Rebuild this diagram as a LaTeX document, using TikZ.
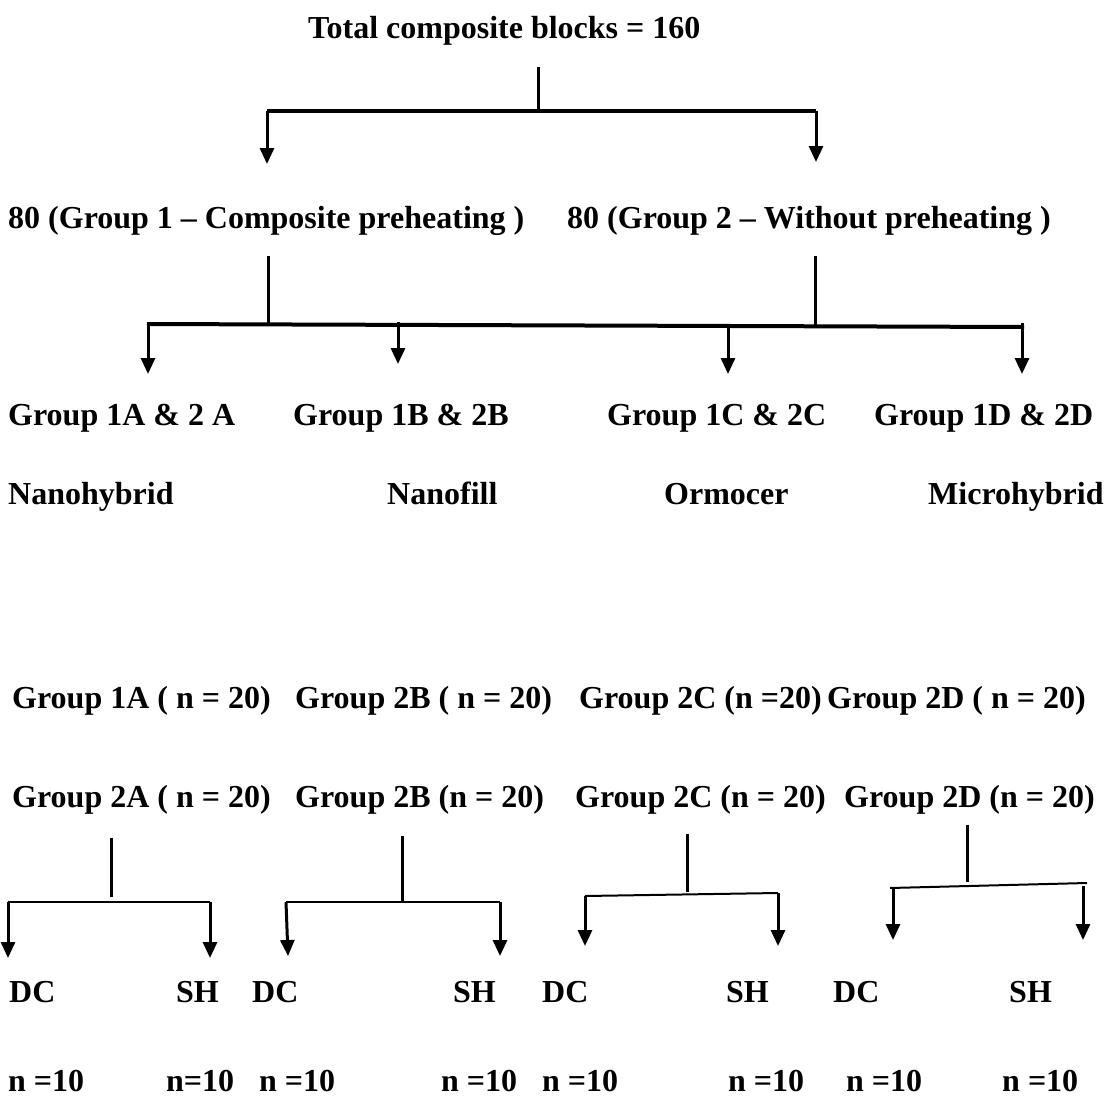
\documentclass[tikz,border=0pt]{standalone}
\usepackage{fontspec}
\setmainfont{Liberation Serif}
\usetikzlibrary{arrows.meta}
\begin{document}
\begin{tikzpicture}[x=1pt,y=-1pt,
  lbl/.style={anchor=base west,inner sep=0pt,font=\fontsize{32}{36}\selectfont\bfseries},
  stem/.style={line width=3pt},
  bar/.style={line width=4pt},
  thin bar/.style={line width=2pt},
  arr/.style={line width=3pt,-{Triangle[width=14pt,length=16pt]}}]
\useasboundingbox (0,0) rectangle (1109,1100);
% texts
\node[lbl] (total) at (308,38) {Total composite blocks = 160};
\node[lbl] (g1) at (8,228) {80 (Group 1 -- Composite preheating )};
\node[lbl] (g2) at (567,228) {80 (Group 2 -- Without preheating )};
\node[lbl] (gA) at (8,425) {Group 1A \& 2 A};
\node[lbl] (gB) at (293,425) {Group 1B \& 2B};
\node[lbl] (gC) at (607,425) {Group 1C \& 2C};
\node[lbl] (gD) at (874,425) {Group 1D \& 2D};
\node[lbl] (mA) at (8,504) {Nanohybrid};
\node[lbl] (mB) at (387,504) {Nanofill};
\node[lbl] (mC) at (664,504) {Ormocer};
\node[lbl] (mD) at (928,504) {Microhybrid};
\node[lbl] (pA) at (12,708) {Group 1A ( n = 20)};
\node[lbl] (pB) at (295,708) {Group 2B ( n = 20)};
\node[lbl] (pC) at (579,708) {Group 2C (n =20)};
\node[lbl] (pD) at (827,708) {Group 2D ( n = 20)};
\node[lbl] (qA) at (12,807) {Group 2A ( n = 20)};
\node[lbl] (qB) at (295,807) {Group 2B (n = 20)};
\node[lbl] (qC) at (575,807) {Group 2C (n = 20)};
\node[lbl] (qD) at (844,807) {Group 2D (n = 20)};
\node[lbl] (dA) at (9,1002) {DC};
\node[lbl] (sA) at (176,1002) {SH};
\node[lbl] (dB) at (252,1002) {DC};
\node[lbl] (sB) at (453,1002) {SH};
\node[lbl] (dC) at (542,1002) {DC};
\node[lbl] (sC) at (726,1002) {SH};
\node[lbl] (dD) at (833,1002) {DC};
\node[lbl] (sD) at (1009,1002) {SH};
\node[lbl] (ndA) at (8,1091) {n =10};
\node[lbl] (nsA) at (166,1091) {n=10};
\node[lbl] (ndB) at (259,1091) {n =10};
\node[lbl] (nsB) at (441,1091) {n =10};
\node[lbl] (ndC) at (542,1091) {n =10};
\node[lbl] (nsC) at (728,1091) {n =10};
\node[lbl] (ndD) at (846,1091) {n =10};
\node[lbl] (nsD) at (1002,1091) {n =10};
% level 1 connector
\coordinate (t0) at (538,67);
\coordinate (t1) at (538,111);
\coordinate (tL) at (267,111);
\coordinate (tR) at (816,111);
\coordinate (tLe) at (267,164);
\coordinate (tRe) at (816,162);
\draw[stem] (t0) -- (t1);
\draw[bar] (tL) -- (tR);
\draw[arr] (tL) -- (tLe);
\draw[arr] (tR) -- (tRe);
% level 2 connector
\coordinate (u1a) at (268,256);
\coordinate (u1b) at (268,325);
\coordinate (u2a) at (815,256);
\coordinate (u2b) at (815,326);
\coordinate (uL) at (147,324);
\coordinate (uR) at (1024,327);
\coordinate (uAs) at (148,324);
\coordinate (uAe) at (148,374);
\coordinate (uBs) at (398,322);
\coordinate (uBe) at (398,364);
\coordinate (uCs) at (728,327);
\coordinate (uCe) at (728,374);
\coordinate (uDs) at (1022,323);
\coordinate (uDe) at (1022,374);
\draw[stem] (u1a) -- (u1b);
\draw[stem] (u2a) -- (u2b);
\draw[bar] (uL) -- (uR);
\draw[arr] (uAs) -- (uAe);
\draw[arr] (uBs) -- (uBe);
\draw[arr] (uCs) -- (uCe);
\draw[arr] (uDs) -- (uDe);
% level 3 connectors
\coordinate (aS) at (111,838); \coordinate (aJ) at (111,897);
\coordinate (aL) at (8,902); \coordinate (aR) at (210,902);
\coordinate (aLe) at (8,958); \coordinate (aRe) at (210,958);
\draw[stem] (aS) -- (aJ);
\draw[thin bar] (aL) -- (aR);
\draw[arr] (aL) -- (aLe);
\draw[arr] (aR) -- (aRe);
\coordinate (bS) at (402,836); \coordinate (bJ) at (402,902);
\coordinate (bL) at (286,902); \coordinate (bR) at (500,902);
\coordinate (bLe) at (288,956); \coordinate (bRe) at (500,956);
\draw[stem] (bS) -- (bJ);
\draw[thin bar] (bL) -- (bR);
\draw[arr] (bL) -- (bLe);
\draw[arr] (bR) -- (bRe);
\coordinate (cS) at (687,834); \coordinate (cJ) at (687,892);
\coordinate (cL) at (585,896); \coordinate (cR) at (778,893);
\coordinate (cLe) at (585,946); \coordinate (cRe) at (778,946);
\draw[stem] (cS) -- (cJ);
\draw[thin bar] (cL) -- (cR);
\draw[arr] (cL) -- (cLe);
\draw[arr] (cR) -- (cRe);
\coordinate (dS) at (967,825); \coordinate (dJ) at (967,882);
\coordinate (dL) at (890,888); \coordinate (dR) at (1087,883);
\coordinate (dLs) at (893,888); \coordinate (dRs) at (1083,886);
\coordinate (dLe) at (893,940); \coordinate (dRe) at (1083,940);
\draw[stem] (dS) -- (dJ);
\draw[thin bar] (dL) -- (dR);
\draw[arr] (dLs) -- (dLe);
\draw[arr] (dRs) -- (dRe);
\end{tikzpicture}
\end{document}
